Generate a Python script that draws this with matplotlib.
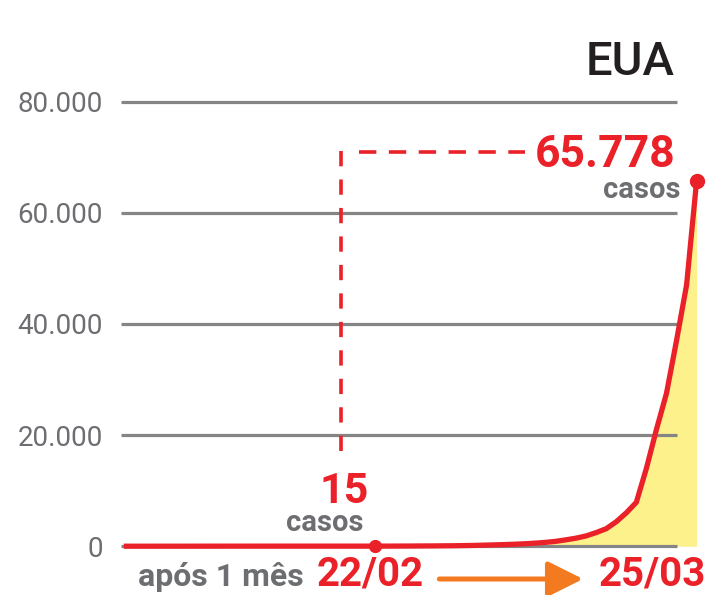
import numpy as np
import matplotlib.pyplot as plt

plt.rcParams['font.family'] = ['Roboto', 'DejaVu Sans']
plt.rcParams['lines.scale_dashes'] = False

# dias contados a partir de 22/02 (dia 0) ate 25/03 (dia 32)
dias = [-25, -20, -15, -10, -5, 0, 3, 6, 8, 10, 11, 12, 13, 14, 15, 16, 17,
        18, 19, 20, 21, 22, 23, 24, 25, 26, 27, 28, 29, 30, 31, 32]
casos = [1, 5, 12, 13, 14, 15, 30, 60, 90, 150, 200, 250, 300, 370, 450, 560,
         700, 880, 1150, 1450, 1850, 2450, 3150, 4400, 6000, 7900, 14000,
         21000, 27500, 37000, 47000, 65778]

yticks = [0, 20000, 40000, 60000, 80000]
ylabels = ['0', '20.000', '40.000', '60.000', '80.000']

data_ini, data_fim = '22/02', '25/03'
casos_ini, casos_fim = casos[dias.index(0)], casos[-1]

vermelho = '#ea2128'
cinza = '#6d6e71'
laranja = '#f47a20'
amarelo = '#fdf18c'

fig = plt.figure(figsize=(7.12, 5.95), dpi=100)
ax = fig.add_axes([118/712, 35/595, 594/712, 500/595])
ax.set_xlim(-25.57, 33.53)
ax.set_ylim(-2480, 87510)

ax.fill_between(dias, casos, 0, color=amarelo, lw=0, zorder=1)
ax.hlines(yticks, -25.3, 30.05, color='#858585', lw=2.3, zorder=2)
ax.plot(dias, casos, color=vermelho, lw=3.8, zorder=3,
        solid_capstyle='butt', clip_on=False)
ax.plot([0], [casos_ini], 'o', color=vermelho, ms=8.5, zorder=4)
ax.plot([dias[-1]], [casos_fim], 'o', color=vermelho, ms=10, zorder=4,
        clip_on=False)

# linhas tracejadas (de cima para baixo, da esquerda para a direita)
ax.plot([-3.38, -3.38], [71200, 15500], color=vermelho, lw=2.6,
        dashes=(11, 9.5), zorder=3)
ax.plot([-1.6, 14.9], [70900, 70900], color=vermelho, lw=2.6,
        dashes=(12.5, 9), zorder=3)

ax.set_yticks(yticks)
ax.set_yticklabels(ylabels, fontsize=20, color=cinza)
ax.tick_params(length=0, pad=11)
ax.set_xticks([])
for s in ax.spines.values():
    s.set_visible(False)

ax.text(29.85, 84800, 'EUA', fontsize=34, color='#231f20',
        fontweight='medium', ha='right', va='baseline')
ax.text(29.85, 68300, f'{casos_fim:,}'.replace(',', '.'), fontsize=32,
        color=vermelho, fontweight='bold', ha='right', va='baseline')
ax.text(30.35, 62700, 'casos', fontsize=21, color=cinza,
        fontweight='bold', ha='right', va='baseline')
ax.text(-3.1, 7800, str(casos_ini), fontsize=31, color=vermelho,
        fontweight='bold', ha='center', va='baseline')
ax.text(-5.0, 2650, 'casos', fontsize=21, color=cinza,
        fontweight='bold', ha='center', va='baseline')

ax.text(-0.5, -7100, data_ini, fontsize=29, color=vermelho,
        fontweight='bold', ha='center', va='baseline', clip_on=False)
ax.text(27.56, -7100, data_fim, fontsize=29, color=vermelho,
        fontweight='bold', ha='center', va='baseline', clip_on=False)
ax.text(-7.1, -7100, 'após 1 mês', fontsize=23, color=cinza,
        fontweight='bold', ha='right', va='baseline', clip_on=False)
ax.annotate('', xy=(20.7, -5900), xytext=(6.4, -5900),
            arrowprops=dict(arrowstyle='-|>,head_length=0.4,head_width=0.2',
                            color=laranja, lw=3.6, mutation_scale=54,
                            shrinkA=0, shrinkB=0),
            annotation_clip=False)

fig.savefig('out.png', dpi=100)
